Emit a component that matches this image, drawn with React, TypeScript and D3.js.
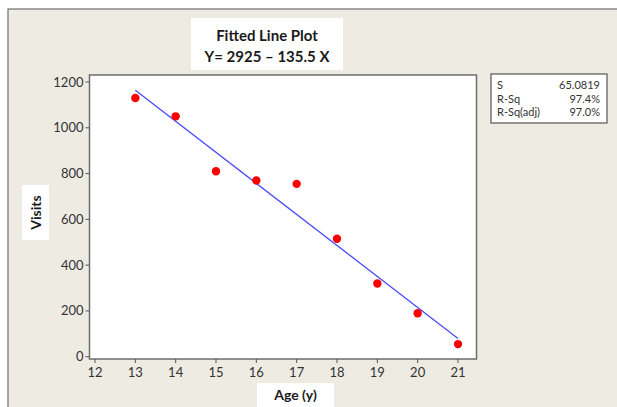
import React from 'react'
import * as d3 from 'd3'

// data
const ages = [13, 14, 15, 16, 17, 18, 19, 20, 21]
const visits = [1130, 1050, 810, 770, 755, 515, 320, 190, 55]
const xTicks = [12, 13, 14, 15, 16, 17, 18, 19, 20, 21]
const yTicks = [0, 200, 400, 600, 800, 1000, 1200]
const intercept = 2925
const slope = -135.5
const statLabels = ['S', 'R-Sq', 'R-Sq(adj)']
const statValues = ['65.0819', '97.4%', '97.0%']

const font = 'Lato, "Open Sans", sans-serif'

export default function App() {
  const width = 617, height = 407
  const plot = { left: 89.5, right: 476.5, top: 75, bottom: 359 }

  const x = d3.scaleLinear().domain([12, 21]).range([95, 458])
  const y = d3.scaleLinear().domain([0, 1200]).range([356.7, 82])

  const fit = d3.line<number>()
    .x(d => x(d))
    .y(d => y(intercept + slope * d))

  return (
    <svg width={width} height={height} style={{ position: 'absolute', left: 0, top: 0 }} fontFamily={font}>
      <rect x={0} y={0} width={width} height={height} fill="#ffffff" />
      <rect x={8} y={9} width={width} height={height} fill="#eeebe3" stroke="#6e6e6e" strokeWidth={1.2} />

      {/* title */}
      <rect x={191} y={18} width={152} height={52} fill="#ffffff" />
      <text x={267} y={41} textAnchor="middle" fontSize={15} fontWeight="bold" fill="#1a1a1a">Fitted Line Plot</text>
      <text x={267} y={62} textAnchor="middle" fontSize={15} fontWeight="bold" fill="#1a1a1a">Y= 2925 – 135.5 X</text>

      {/* plot area */}
      <rect x={plot.left} y={plot.top} width={plot.right - plot.left} height={plot.bottom - plot.top}
        fill="#ffffff" stroke="#6e6e6e" strokeWidth={1.5} />

      {/* y axis */}
      {yTicks.map(t => (
        <g key={'y' + t}>
          <line x1={plot.left - 4} x2={plot.left} y1={y(t)} y2={y(t)} stroke="#555" />
          <text x={plot.left - 6} y={y(t)} dy="0.35em" textAnchor="end" fontSize={13} fill="#333">{t}</text>
        </g>
      ))}
      {/* x axis */}
      {xTicks.map(t => (
        <g key={'x' + t}>
          <line x1={x(t)} x2={x(t)} y1={plot.bottom} y2={plot.bottom + 4} stroke="#555" />
          <text x={x(t)} y={plot.bottom + 18} textAnchor="middle" fontSize={13} fill="#333">{t}</text>
        </g>
      ))}

      {/* axis titles */}
      <rect x={22} y={185} width={27} height={55} fill="#ffffff" />
      <text transform="translate(40.5,212.5) rotate(-90)" textAnchor="middle" fontSize={14} fontWeight="bold" fill="#1a1a1a">Visits</text>
      <rect x={257} y={383} width={77} height={24} fill="#ffffff" />
      <text x={295.5} y={400} textAnchor="middle" fontSize={14} fontWeight="bold" fill="#1a1a1a">Age (y)</text>

      {/* fitted line */}
      <path d={fit([13, 21]) || ''} fill="none" stroke="#4a4aff" strokeWidth={1.3} />

      {/* points */}
      {ages.map((a, i) => (
        <circle key={a} cx={x(a)} cy={y(visits[i])} r={4.2} fill="#ff0000" />
      ))}

      {/* stats box */}
      <rect x={491} y={74} width={116} height={49} fill="#ffffff" stroke="#555" strokeWidth={1.2} />
      {statLabels.map((s, i) => (
        <g key={s}>
          <text x={497} y={89 + i * 13.5} fontSize={11} fill="#333">{s}</text>
          <text x={600} y={89 + i * 13.5} textAnchor="end" fontSize={11} fill="#333">{statValues[i]}</text>
        </g>
      ))}
    </svg>
  )
}
